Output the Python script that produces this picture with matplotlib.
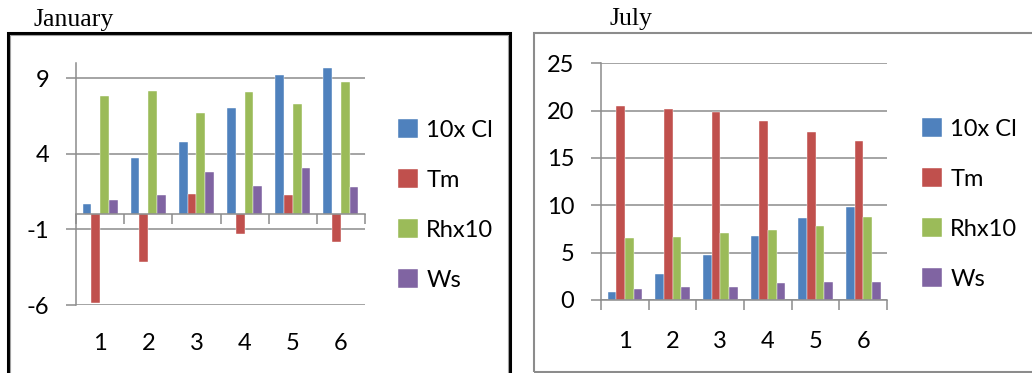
import matplotlib
matplotlib.use("Agg")
import matplotlib.pyplot as plt
from matplotlib.patches import Rectangle
import numpy as np

categories = ["1", "2", "3", "4", "5", "6"]
series_names = ["10x Cl", "Tm", "Rhx10", "Ws"]
colors = ["#4F81BD", "#C0504D", "#9BBB59", "#8064A2"]

jan_cl = [0.68, 3.73, 4.80, 7.04, 9.21, 9.67]
jan_tm = [-5.86, -3.16, 1.36, -1.27, 1.29, -1.86]
jan_rh = [7.85, 8.18, 6.71, 8.11, 7.30, 8.79]
jan_ws = [0.94, 1.29, 2.79, 1.89, 3.07, 1.78]

jul_cl = [0.81, 2.72, 4.76, 6.80, 8.64, 9.77]
jul_tm = [20.5, 20.2, 19.85, 18.86, 17.7, 16.82]
jul_rh = [6.6, 6.7, 7.05, 7.4, 7.86, 8.74]
jul_ws = [1.16, 1.38, 1.38, 1.83, 1.94, 1.94]

jan_ticks = [-6, -1, 4, 9]
jul_ticks = [0, 5, 10, 15, 20, 25]

W, H = 1032, 373
fig = plt.figure(figsize=(W / 100, H / 100), dpi=100)
FONT = "Lato"
GRID = "#8C8C8C"

def px_axes(x0, y0, x1, y1):
    return fig.add_axes([x0 / W, 1 - y1 / H, (x1 - x0) / W, (y1 - y0) / H])

def frame(x0, y0, x1, y1, color, lw):
    fig.patches.append(Rectangle((x0 / W, 1 - y1 / H), (x1 - x0) / W, (y1 - y0) / H,
                                 transform=fig.transFigure, fill=False,
                                 edgecolor=color, linewidth=lw, zorder=0))

def draw(ax, data, ylim, yticks, zero_axis, label_y_px, ax_bottom_px, ax_h_px):
    n = len(categories)
    x = np.arange(n)
    w = 1 / 5.5
    for i, (vals, c, name) in enumerate(zip(data, colors, series_names)):
        ax.bar(x + (i - 1.5) * w, vals, width=w, color=c, label=name, zorder=3,
               edgecolor="white", linewidth=0.3)
    ax.set_xlim(-0.5, n - 0.5)
    ax.set_ylim(*ylim)
    ax.set_yticks(yticks)
    ax.set_yticklabels([str(t) for t in yticks], fontsize=17, family=FONT)
    ax.yaxis.grid(True, color=GRID, linewidth=1.1, zorder=1)
    ax.tick_params(axis="y", length=7.2, width=1.1, color=GRID, pad=12)
    for s in ["top", "right"]:
        ax.spines[s].set_visible(False)
    ax.spines["left"].set_color(GRID)
    ax.spines["left"].set_linewidth(1.1)
    ax.spines["bottom"].set_color(GRID)
    ax.spines["bottom"].set_linewidth(1.1)
    ax.spines["bottom"].set_position(("data", zero_axis))
    ax.spines["bottom"].set_zorder(4)
    ax.set_xticks(np.arange(n + 1) - 0.5)
    ax.set_xticklabels([])
    ax.tick_params(axis="x", length=7.2, width=1.1, color=GRID, direction="out")
    yfrac = (ax_bottom_px - label_y_px) / ax_h_px
    for xi, lab in zip(x, categories):
        ax.text(xi, yfrac, lab, transform=ax.get_xaxis_transform(), ha="center",
                va="center", fontsize=17, family=FONT, color="black")
    ax.set_facecolor("none")

def legend(ax, x_px, yc_px, x0, x1, y0, y1):
    ax.legend(loc="center left", bbox_to_anchor=((x_px - x0) / (x1 - x0), (y1 - yc_px) / (y1 - y0)),
              frameon=False, prop={"family": FONT, "size": 17}, handlelength=0.85,
              handleheight=0.85, handletextpad=0.35, labelspacing=1.2, borderpad=0,
              borderaxespad=0)

# January
frame(8, 32.5, 510, 380, "black", 2.2)
frame(10, 34.5, 508, 380, "#A0A0A0", 0.8)
ax1 = px_axes(76, 63.3, 365, 305)
draw(ax1, [jan_cl, jan_tm, jan_rh, jan_ws], (-6, 10), jan_ticks, 0, 343, 305, 305 - 63.3)
legend(ax1, 398, 205, 76, 365, 63.3, 305)

# July
frame(533.5, 33, 1040, 371.5, "#8C8C8C", 1.5)
ax2 = px_axes(601, 63.3, 887, 300)
draw(ax2, [jul_cl, jul_tm, jul_rh, jul_ws], (0, 25), jul_ticks, 0, 342, 300, 300 - 63.3)
legend(ax2, 922, 204, 601, 887, 63.3, 300)

fig.text(33 / W, 1 - 26 / H, "January", family="Liberation Serif", fontsize=18.5,
         va="baseline", ha="left")
fig.text(609 / W, 1 - 25 / H, "July", family="Liberation Serif", fontsize=18.5,
         va="baseline", ha="left")

fig.savefig("out.png", dpi=100)
